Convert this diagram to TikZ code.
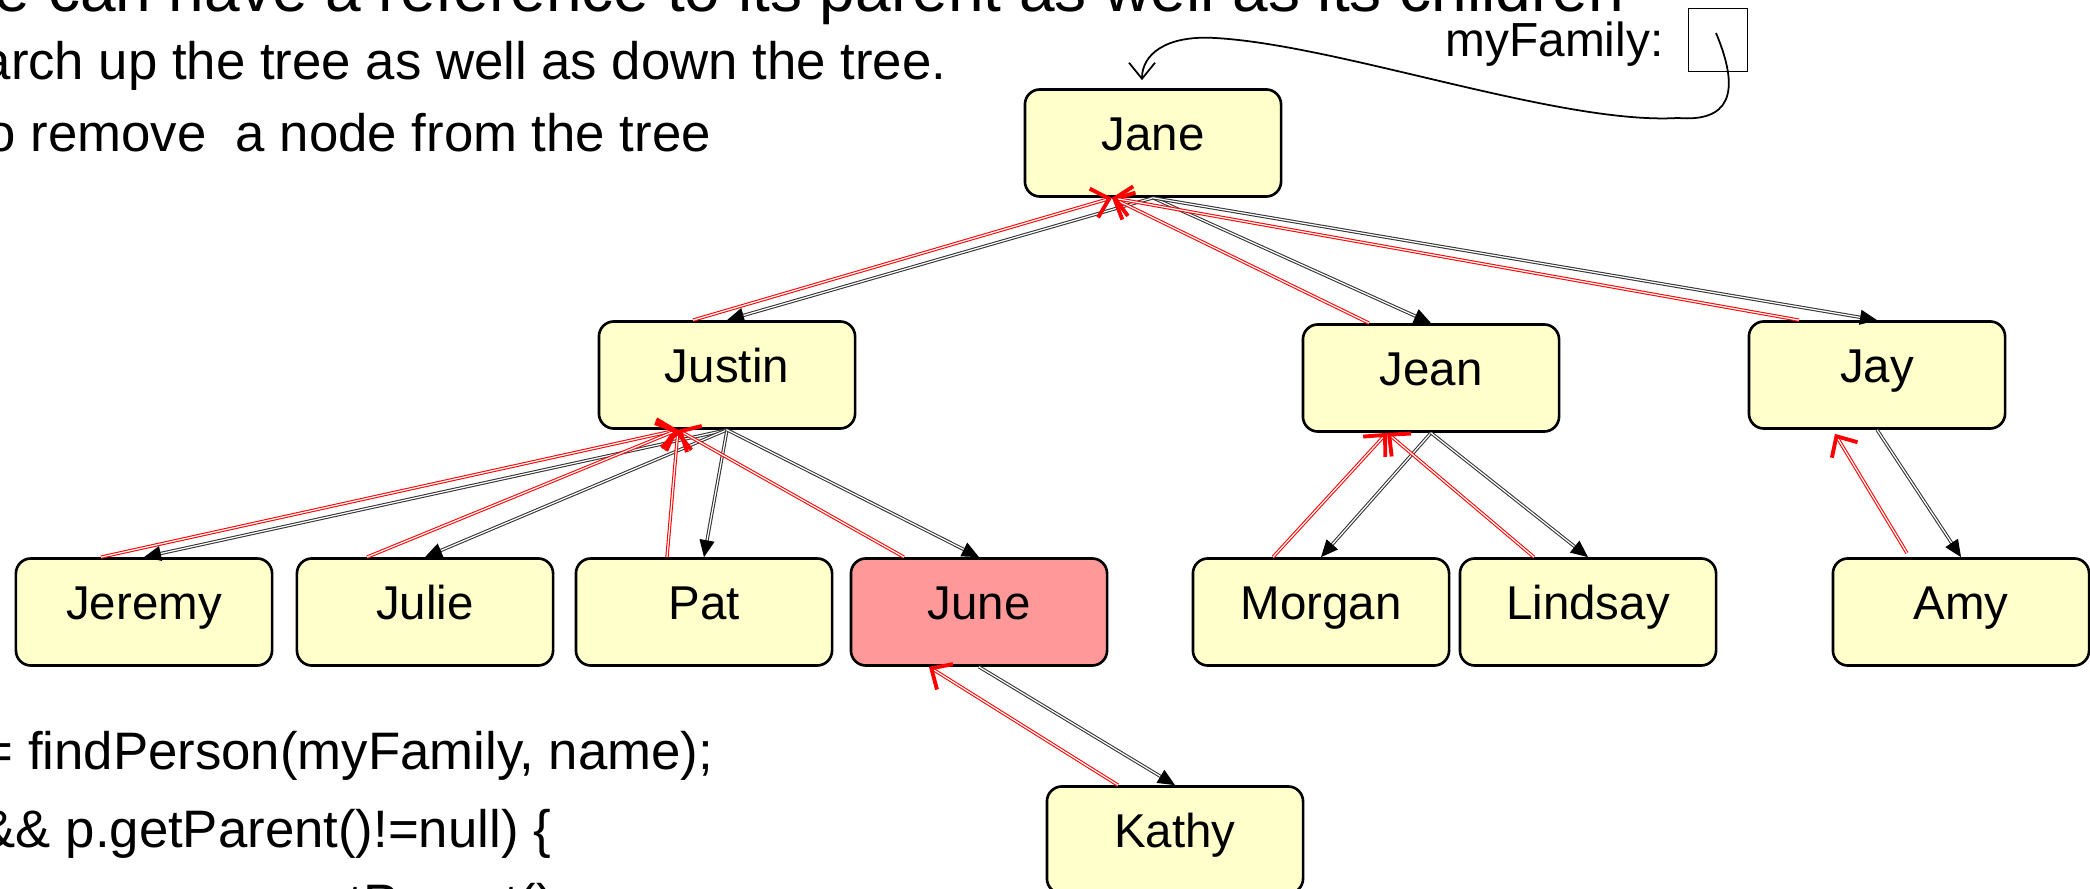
\documentclass[tikz,border=0pt]{standalone}
\usepackage{fontspec}
\setmainfont{Liberation Sans}
\usetikzlibrary{arrows.meta}
\definecolor{nodefill}{HTML}{FFFFCC}
\definecolor{foundfill}{HTML}{FF9999}

\begin{document}
\begin{tikzpicture}[
  x=0.01cm, y=-0.01cm,
  person/.style={draw, line width=0.75pt, rounded corners=0.15cm, fill=nodefill,
    minimum width=2.56cm, minimum height=1.07cm, text height=0.4cm, text depth=0.25cm,
    font=\fontsize{13.5}{16}\selectfont},
  childedge/.style={draw=black!80, line width=0.3pt, double=white, double distance=0.35pt,
    -{Triangle[length=1.7mm,width=1.5mm,color=black]}},
  parentedge/.style={draw=red, line width=0.3pt, double=white, double distance=0.35pt,
    -{Straight Barb[length=1.6mm,width=3mm,line width=1.1pt,color=red]}},
  slide/.style={anchor=base west, inner sep=0pt, font=\fontsize{15}{18}\selectfont}]
\useasboundingbox (0,0) rectangle (2090,889);

\node[slide, font=\fontsize{18.2}{22}\selectfont] (intro) at (-6,12) {e can have a reference to its parent as well as its children};
\node[slide] (updown) at (-19,80) {arch up the tree as well as down the tree.};
\node[slide] (remove) at (-14,152) {o remove\ \ a node from the tree};
\node[slide] (codeA) at (-18,770) {= findPerson(myFamily, name);};
\node[slide] (codeB) at (-20,848) {\&\& p.getParent()!=null) \{};
\node[slide] (codeC) at (156,922) {p = p.getParent();};

\node[person] (jane) at (1153,143) {Jane};
\node[person] (justin) at (727,375) {Justin};
\node[person] (jean) at (1431,378) {Jean};
\node[person] (jay) at (1877,375) {Jay};
\node[person] (jeremy) at (144,612) {Jeremy};
\node[person] (julie) at (425,612) {Julie};
\node[person] (pat) at (704,612) {Pat};
\node[person, fill=foundfill] (june) at (979,612) {June};
\node[person] (morgan) at (1321,612) {Morgan};
\node[person] (lindsay) at (1588,612) {Lindsay};
\node[person] (amy) at (1961,612) {Amy};
\node[person] (kathy) at (1175,840) {Kathy};

\node[draw, line width=0.5pt, minimum width=0.59cm, minimum height=0.63cm, inner sep=0pt] (fam) at (1718,40) {};
\node[anchor=base east, inner sep=0pt, font=\fontsize{13.6}{16}\selectfont] (famlabel) at (1664,57) {myFamily:};
\draw[line width=0.5pt, -{Straight Barb[length=1.6mm,width=2.6mm]}] ([xshift=-0.02cm,yshift=0.07cm]fam.center)
  .. controls (1742,95) and (1728,122) .. (1678,118)
  .. controls (1560,125) and (1340,45) .. (1215,38)
  .. controls (1165,35) and (1142,55) .. ([xshift=-0.11cm,yshift=0.08cm]jane.north);

\draw[childedge] (jane.south) -- (justin.north);
\draw[parentedge] ([xshift=-0.34cm]justin.north) -- ([xshift=-0.41cm]jane.south);
\draw[childedge] (jane.south) -- (jean.north);
\draw[parentedge] ([xshift=-0.62cm]jean.north) -- ([xshift=-0.41cm]jane.south);
\draw[childedge] (jane.south) -- (jay.north);
\draw[parentedge] ([xshift=-0.78cm]jay.north) -- ([xshift=-0.41cm]jane.south);

\draw[childedge] (justin.south) -- (jeremy.north);
\draw[parentedge] ([xshift=-0.43cm]jeremy.north) -- ([xshift=-0.49cm]justin.south);
\draw[childedge] (justin.south) -- (julie.north);
\draw[parentedge] ([xshift=-0.58cm]julie.north) -- ([xshift=-0.49cm]justin.south);
\draw[childedge] (justin.south) -- (pat.north);
\draw[parentedge] ([xshift=-0.37cm]pat.north) -- ([xshift=-0.49cm]justin.south);
\draw[childedge] (justin.south) -- (june.north);
\draw[parentedge] ([xshift=-0.75cm]june.north) -- ([xshift=-0.49cm]justin.south);

\draw[childedge] (jean.south) -- (morgan.north);
\draw[parentedge] ([xshift=-0.48cm]morgan.north) -- ([xshift=-0.44cm]jean.south);
\draw[childedge] (jean.south) -- (lindsay.north);
\draw[parentedge] ([xshift=-0.54cm]lindsay.north) -- ([xshift=-0.44cm]jean.south);

\draw[childedge] (jay.south) -- (amy.north);
\draw[parentedge] ([xshift=-0.54cm,yshift=0.04cm]amy.north) -- ([xshift=-0.42cm,yshift=-0.04cm]jay.south);

\draw[childedge] (june.south) -- (kathy.north);
\draw[parentedge] ([xshift=-0.57cm]kathy.north) -- ([xshift=-0.5cm]june.south);
\end{tikzpicture}
\end{document}
